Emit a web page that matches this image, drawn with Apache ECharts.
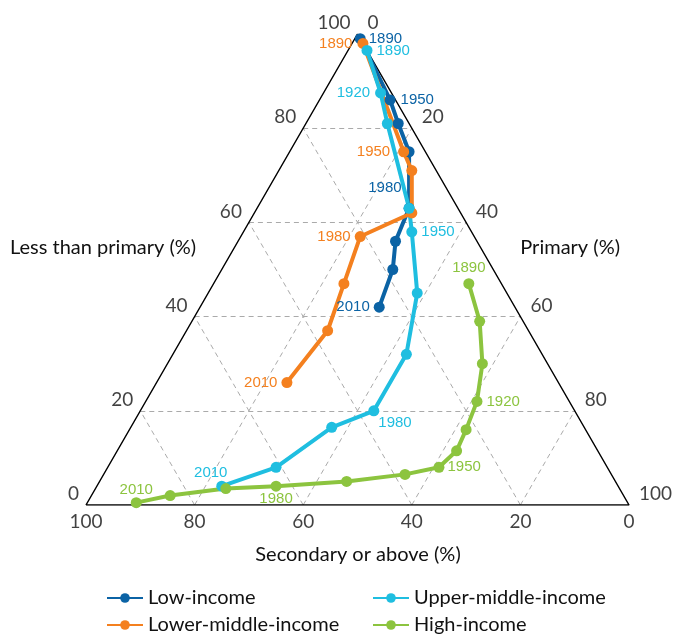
<!DOCTYPE html>
<html>
<head>
<meta charset="utf-8">
<script src="https://cdn.jsdelivr.net/npm/echarts@6/dist/echarts.min.js"></script>
<style>
  html, body { margin: 0; padding: 0; background: #fff; }
  #main { width: 677px; height: 635px; }
</style>
</head>
<body>
<div id="main"></div>
<script>
// ternary shares (%): less than primary / primary / secondary or above
const lowYears = [1890, 1950, 1960, 1970, 1980, 1990, 2000, 2010];
const lowLess = [99, 86, 81, 75, 63, 56, 50, 42];
const lowPrimary = [1, 13, 17, 22, 28, 29, 31.5, 33];
const lowSecondary = [0, 1, 2, 3, 9, 15, 18.5, 25];

const lowerMidYears = [1890, 1950, 1960, 1970, 1980, 1990, 2000, 2010];
const lowerMidLess = [98, 75, 71, 62, 57, 47, 37, 26];
const lowerMidPrimary = [2, 21, 24.5, 29, 22, 24, 26, 24];
const lowerMidSecondary = [0, 4, 4.5, 9, 21, 29, 37, 50];

const upperMidYears = [1890, 1920, 1930, 1940, 1950, 1960, 1970, 1980, 1990, 2000, 2010];
const upperMidLess = [96.5, 87.5, 81, 63, 58, 45, 32, 20, 16.5, 8, 4];
const upperMidPrimary = [3.5, 10.5, 15, 28, 31, 38.5, 43, 43, 37, 31, 23];
const upperMidSecondary = [0, 2, 4, 9, 11, 16.5, 25, 37, 46.5, 61, 73];

const highYears = [1890, 1900, 1910, 1920, 1930, 1940, 1950, 1960, 1970, 1980, 1990, 2000, 2010];
const highLess = [47, 39, 30, 22, 16, 11.5, 8, 6.5, 5, 4, 3.5, 2, 0.5];
const highPrimary = [47, 53, 58, 61, 62, 62.5, 61, 55.5, 45.5, 33, 24, 14.5, 9];
const highSecondary = [6, 8, 12, 17, 22, 26, 31, 38, 49.5, 63, 72.5, 83.5, 90.5];

const tickValues = [0, 20, 40, 60, 80, 100];
const gridValues = [20, 40, 60, 80];

const H = Math.sqrt(3) / 2;
// ternary -> cartesian (secondary=100 bottom left, primary=100 bottom right, less=100 top)
function toXY(l, p, s) {
  const t = l + p + s;
  return [(p + l / 2) / t * 100, l / t * 100 * H];
}

// which years get a text label, and where it sits
const labelSpots = {
  'Low-income': { 1890: ['right', 3, [0, 0]], 1950: ['right', 5, [0, 0]], 1980: ['left', 2, [0, -20]], 2010: ['left', 4, [0, 0]] },
  'Lower-middle-income': { 1890: ['left', 5, [0, 0]], 1950: ['left', 8, [0, 0]], 1980: ['left', 4, [0, 0]], 2010: ['left', 4, [0, 0]] },
  'Upper-middle-income': { 1890: ['right', 4, [0, 0]], 1920: ['left', 5, [0, 0]], 1950: ['right', 4, [0, 0]], 1980: ['right', 2, [-3, 12]], 2010: ['top', 2, [-11, 2]] },
  'High-income': { 1890: ['top', 3, [0, 0]], 1920: ['right', 4, [0, 0]], 1950: ['right', 3, [0, 0]], 1980: ['bottom', 0, [0, 0]], 2010: ['top', 0, [0, 0]] }
};

const colors = {
  'Low-income': '#0b63a5',
  'Lower-middle-income': '#f4801f',
  'Upper-middle-income': '#1fbee0',
  'High-income': '#8cc43f'
};

function makeSeries(name, years, less, primary, secondary) {
  const spots = labelSpots[name];
  const data = years.map(function (yr, i) {
    const item = { value: toXY(less[i], primary[i], secondary[i]), name: String(yr) };
    if (spots[yr]) {
      item.label = { show: true, position: spots[yr][0], distance: spots[yr][1], offset: spots[yr][2] };
    }
    return item;
  });
  return {
    name: name,
    type: 'line',
    data: data,
    symbol: 'circle',
    symbolSize: 11,
    color: colors[name],
    lineStyle: { width: 4, color: colors[name] },
    itemStyle: { color: colors[name] },
    label: {
      show: false,
      formatter: '{b}',
      color: colors[name],
      fontFamily: 'Liberation Sans',
      fontSize: 15
    },
    z: 5
  };
}

// dashed grid
const gridLines = [];
gridValues.forEach(function (v) {
  gridLines.push({ coords: [toXY(v, 0, 100 - v), toXY(v, 100 - v, 0)] });
  gridLines.push({ coords: [toXY(0, v, 100 - v), toXY(100 - v, v, 0)] });
  gridLines.push({ coords: [toXY(0, 100 - v, v), toXY(100 - v, 0, v)] });
});

const tickFont = { color: '#111', fontFamily: 'Lato', fontSize: 19 };
const leftTicks = tickValues.map(function (v) {
  return { value: toXY(v, 0, 100 - v), name: String(v) };
});
const rightTicks = tickValues.map(function (v) {
  return { value: toXY(100 - v, v, 0), name: String(v) };
});
const bottomTicks = tickValues.map(function (v) {
  return { value: toXY(0, 100 - v, v), name: String(v) };
});

const legendText = { color: '#111', fontFamily: 'Lato', fontSize: 20 };
const titleFont = '20px Lato';

var chart = echarts.init(document.getElementById('main'));
const option = {
  animation: false,
  grid: { left: 86, top: 34, width: 543, height: 471 },
  xAxis: { type: 'value', min: 0, max: 100, show: false },
  yAxis: { type: 'value', min: 0, max: 100 * H, show: false },
  legend: [
    {
      left: 106, top: 588, orient: 'vertical', itemGap: 7, padding: 0,
      itemWidth: 36, itemHeight: 12,
      textStyle: legendText,
      data: ['Low-income', 'Lower-middle-income']
    },
    {
      left: 372, top: 588, orient: 'vertical', itemGap: 7, padding: 0,
      itemWidth: 36, itemHeight: 12,
      textStyle: legendText,
      data: ['Upper-middle-income', 'High-income']
    }
  ],
  graphic: [
    { type: 'text', x: 10, y: 248, style: { text: 'Less than primary (%)', fill: '#111', font: titleFont, align: 'left', verticalAlign: 'middle' } },
    { type: 'text', x: 620, y: 248, style: { text: 'Primary (%)', fill: '#111', font: titleFont, align: 'right', verticalAlign: 'middle' } },
    { type: 'text', x: 358, y: 555, style: { text: 'Secondary or above (%)', fill: '#111', font: titleFont, align: 'center', verticalAlign: 'middle' } }
  ],
  series: [
    {
      type: 'lines',
      coordinateSystem: 'cartesian2d',
      silent: true,
      data: gridLines,
      lineStyle: { color: '#aaaaaa', width: 1, type: [5, 4], opacity: 1 },
      z: 1
    },
    {
      type: 'line',
      silent: true,
      data: [toXY(0, 0, 100), toXY(0, 100, 0), toXY(100, 0, 0), toXY(0, 0, 100)],
      symbol: 'none',
      lineStyle: { color: '#000', width: 1.5 },
      z: 2
    },
    {
      type: 'scatter', silent: true, symbolSize: 0, data: leftTicks,
      label: Object.assign({ show: true, position: 'left', distance: 7, offset: [0, -11], formatter: '{b}' }, tickFont)
    },
    {
      type: 'scatter', silent: true, symbolSize: 0, data: rightTicks,
      label: Object.assign({ show: true, position: 'right', distance: 10, offset: [0, -11], formatter: '{b}' }, tickFont)
    },
    {
      type: 'scatter', silent: true, symbolSize: 0, data: bottomTicks,
      label: Object.assign({ show: true, position: 'bottom', distance: 7, formatter: '{b}' }, tickFont)
    },
    makeSeries('Low-income', lowYears, lowLess, lowPrimary, lowSecondary),
    makeSeries('Lower-middle-income', lowerMidYears, lowerMidLess, lowerMidPrimary, lowerMidSecondary),
    makeSeries('Upper-middle-income', upperMidYears, upperMidLess, upperMidPrimary, upperMidSecondary),
    makeSeries('High-income', highYears, highLess, highPrimary, highSecondary)
  ]
};
chart.setOption(option);
</script>
</body>
</html>
